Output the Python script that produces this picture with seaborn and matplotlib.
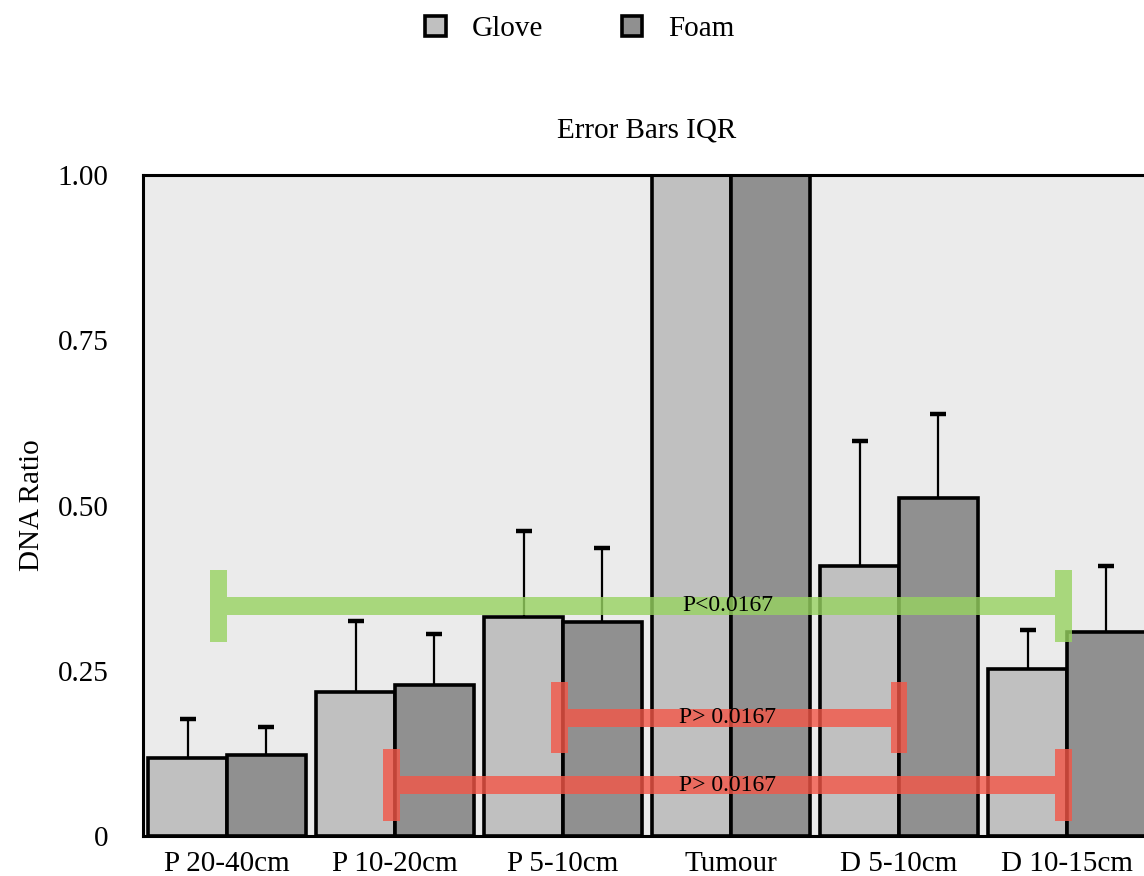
import numpy as np
import pandas as pd
import matplotlib
matplotlib.use("Agg")
import matplotlib.pyplot as plt
from matplotlib.patches import Rectangle, Patch
import seaborn as sns

categories = ["P 20-40cm", "P 10-20cm", "P 5-10cm", "Tumour", "D 5-10cm", "D 10-15cm"]
groups = ["Glove", "Foam"]
glove_vals = [0.118, 0.218, 0.332, 1.0, 0.409, 0.252]
foam_vals = [0.123, 0.229, 0.324, 1.0, 0.511, 0.308]
glove_upper = [0.177, 0.326, 0.461, np.nan, 0.598, 0.311]
foam_upper = [0.165, 0.306, 0.436, np.nan, 0.639, 0.409]

bracket_labels = ["P<0.0167", "P> 0.0167", "P> 0.0167"]
bracket_left = [-0.05, 1.98, 0.98]
bracket_right = [4.98, 4.0, 4.98]
bracket_y = [0.348, 0.179, 0.077]
bracket_colors = ["#97d360", "#f45647", "#f45647"]

yticks = [0, 0.25, 0.50, 0.75, 1.00]
ytick_labels = ["0", "0.25", "0.50", "0.75", "1.00"]

sns.set_theme(style="white")
plt.rcParams["font.family"] = ["Liberation Serif", "DejaVu Serif"]
plt.rcParams["text.color"] = "black"
plt.rcParams["axes.labelcolor"] = "black"
plt.rcParams["xtick.color"] = "black"
plt.rcParams["ytick.color"] = "black"

df = pd.DataFrame({
    "category": categories * 2,
    "group": ["Glove"] * len(categories) + ["Foam"] * len(categories),
    "value": glove_vals + foam_vals,
})

W, H = 1144, 876
fig = plt.figure(figsize=(W / 100, H / 100), dpi=100)
ax = fig.add_axes([143 / W, (H - 836) / H, (1151 - 143) / W, (836 - 175) / H])
ax.set_facecolor("#ebebeb")

palette = {"Glove": "#c0c0c0", "Foam": "#909090"}
sns.barplot(data=df, x="category", y="value", hue="group", order=categories,
            hue_order=groups, palette=palette, width=0.94, edgecolor="black",
            linewidth=2.6, saturation=1, legend=False, ax=ax, errorbar=None)

# error bars (IQR upper only)
off = 0.94 / 4
xs = np.arange(len(categories))
for vals, upp, sign in [(glove_vals, glove_upper, -1), (foam_vals, foam_upper, 1)]:
    v = np.array(vals)
    u = np.array(upp)
    mask = ~np.isnan(u)
    eb = ax.errorbar(xs[mask] + sign * off, v[mask], yerr=[np.zeros(mask.sum()), (u - v)[mask]],
                     fmt="none", ecolor="black", elinewidth=1.6, capsize=5.5, capthick=3.2,
                     zorder=1)
    caps = eb[1]
    if len(caps) > 1:
        caps[0].set_visible(False)

# significance brackets
line_h = 0.027
cap_w = 0.1
cap_h = 0.108
for lab, x1, x2, y, c in zip(bracket_labels, bracket_left, bracket_right, bracket_y, bracket_colors):
    ax.add_patch(Rectangle((x1 + cap_w / 2, y - line_h / 2), (x2 - x1) - cap_w, line_h,
                           facecolor=c, edgecolor="none", alpha=0.8, zorder=5))
    for xc in (x1, x2):
        ax.add_patch(Rectangle((xc - cap_w / 2, y - cap_h / 2), cap_w, cap_h,
                               facecolor=c, edgecolor="none", alpha=0.8, zorder=5))
    ax.text(2.98, y, lab, ha="center", va="center", fontsize=17, color="black", zorder=6)

ax.set_xlim(-0.5, len(categories) - 0.5)
ax.set_ylim(0, 1.0)
ax.set_yticks(yticks)
ax.set_yticklabels(ytick_labels)
ax.tick_params(axis="y", length=0, pad=25, labelsize=21)
ax.tick_params(axis="x", length=0, pad=10.5, labelsize=21)
ax.set_xlabel("")
ax.set_ylabel("DNA Ratio", fontsize=21, labelpad=9)
ax.set_title("Error Bars IQR", fontsize=21, pad=27)
for s in ax.spines.values():
    s.set_color("black")
    s.set_linewidth(2.2)

handles = [Patch(facecolor=palette[g], edgecolor="black", linewidth=2.6, label=g) for g in groups]
fig.legend(handles=handles, loc="upper center", bbox_to_anchor=(0.507, 1.012), ncol=2,
           frameon=False, fontsize=21, handlelength=0.7, handleheight=0.7,
           handletextpad=0.9, columnspacing=2.7)

fig.savefig("out.png", dpi=100)
